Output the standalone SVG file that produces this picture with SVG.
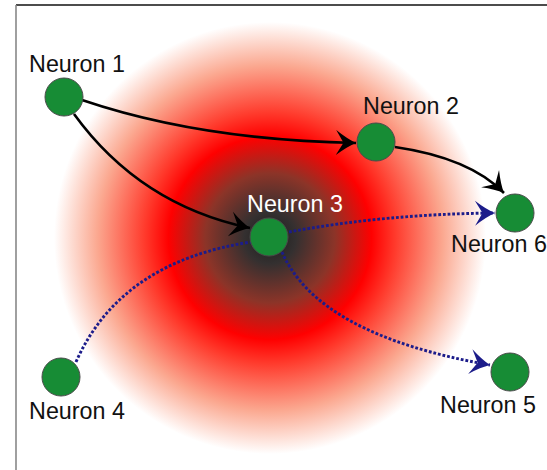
<svg xmlns="http://www.w3.org/2000/svg" width="547" height="470" viewBox="0 0 547 470">
  <style>
    .node { fill: #178c35; stroke: #4a4a4a; stroke-width: 1; }
    .label { font-family: "Liberation Sans", Arial, sans-serif; font-size: 23.3px; fill: #111; }
    .label.light { fill: #ffffff; }
    .syn { fill: none; stroke: #000; stroke-width: 2.6; }
    .mod { fill: none; stroke: #1c1c8a; stroke-width: 2.9; stroke-dasharray: 2.8 1.9; }
  </style>
  <defs>
    <radialGradient id="field" gradientUnits="userSpaceOnUse" cx="270" cy="238" r="216">
      <stop offset="0" stop-color="#1c1c1c"/>
      <stop offset="0.12" stop-color="#343030"/>
      <stop offset="0.3" stop-color="#8c3428"/>
      <stop offset="0.47" stop-color="#ff0000"/>
      <stop offset="0.58" stop-color="#ff3a2c"/>
      <stop offset="0.8" stop-color="#fba890"/>
      <stop offset="1" stop-color="#ffffff"/>
    </radialGradient>
    <marker id="headBlack" markerUnits="userSpaceOnUse" markerWidth="30" markerHeight="30" viewBox="-18 -12 21 24" refX="0" refY="0" orient="auto">
      <path d="M-16,-10 Q-7,-3 0,0 Q-7,3 -16,10 L-10,0 Z" fill="#000"/>
    </marker>
    <marker id="headBlue" markerUnits="userSpaceOnUse" markerWidth="30" markerHeight="30" viewBox="-18 -12 21 24" refX="0" refY="0" orient="auto">
      <path d="M-16,-10 Q-7,-3 0,0 Q-7,3 -16,10 L-10,0 Z" fill="#1c1c8a"/>
    </marker>
  </defs>

  <rect x="0" y="0" width="547" height="470" fill="#ffffff"/>
  <!-- frame -->
  <line x1="16" y1="5" x2="547" y2="5" stroke="#111" stroke-width="1.6"/>
  <line x1="16" y1="5" x2="16" y2="470" stroke="#888" stroke-width="1.6"/>

  <!-- diffuse field around neuron 3 -->
  <circle cx="270" cy="238" r="216" fill="url(#field)"/>

  <g id="connectors">
    <path class="syn" d="M82,100 Q200,140 356,143" marker-end="url(#headBlack)"/>
    <path class="syn" d="M74,114 Q140,205 250,228" marker-end="url(#headBlack)"/>
    <path class="syn" d="M395,147 Q470,158 504,193" marker-end="url(#headBlack)"/>
    <path class="mod" d="M289,232 Q385,214 495,213" marker-end="url(#headBlue)"/>
    <path class="mod" d="M282,252 Q318,335 490,365" marker-end="url(#headBlue)"/>
    <path class="mod" d="M76,362 Q120,262 251,242"/>
  </g>

  <g id="neuron1">
    <circle class="node" cx="64" cy="97" r="19"/>
    <text class="label" x="77" y="72" text-anchor="middle">Neuron 1</text>
  </g>
  <g id="neuron2">
    <circle class="node" cx="376" cy="142" r="19"/>
    <text class="label" x="411" y="114" text-anchor="middle">Neuron 2</text>
  </g>
  <g id="neuron3">
    <circle class="node" cx="269" cy="237" r="19"/>
    <text class="label light" x="295" y="212" text-anchor="middle">Neuron 3</text>
  </g>
  <g id="neuron4">
    <circle class="node" cx="61" cy="377" r="19"/>
    <text class="label" x="77" y="419" text-anchor="middle">Neuron 4</text>
  </g>
  <g id="neuron5">
    <circle class="node" cx="510" cy="372" r="19"/>
    <text class="label" x="488" y="413" text-anchor="middle">Neuron 5</text>
  </g>
  <g id="neuron6">
    <circle class="node" cx="515" cy="213" r="19"/>
    <text class="label" x="499" y="252" text-anchor="middle">Neuron 6</text>
  </g>
</svg>
